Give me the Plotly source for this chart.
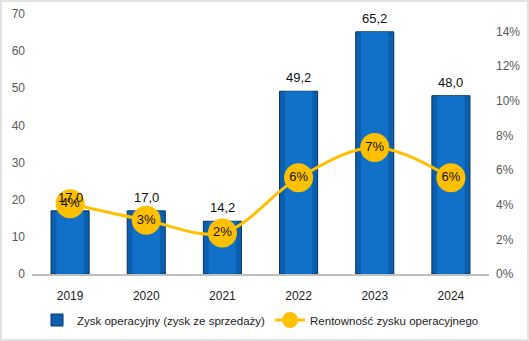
import plotly.graph_objects as go

years = ["2019", "2020", "2021", "2022", "2023", "2024"]
zysk = [17.0, 17.0, 14.2, 49.2, 65.2, 48.0]
rentownosc = [0.0405, 0.031, 0.0237, 0.0555, 0.073, 0.0555]

zysk_labels = [f"{v:.1f}".replace(".", ",") for v in zysk]
rent_labels = [f"{round(v*100):.0f}%" for v in rentownosc]

W, H = 529, 341
ml, mr, mt, mb = 32, 40, 14, 67
pw, ph = W - ml - mr, H - mt - mb
FONT = "Liberation Sans, Arial, sans-serif"

fig = go.Figure()
fig.add_trace(go.Bar(
    x=years, y=zysk, name="Zysk operacyjny (zysk ze sprzedaży)",
    width=0.5, marker=dict(color="#0b5fae", line=dict(color="#06345f", width=1)),
))
# inner highlight to mimic bevel
fig.add_trace(go.Bar(
    x=years, y=zysk, width=0.36, showlegend=False, hoverinfo="skip",
    marker=dict(color="#1170c8", line=dict(width=0)),
))
fig.add_trace(go.Scatter(
    x=years, y=rentownosc, name="Rentowność zysku operacyjnego", yaxis="y2",
    mode="lines+markers+text", line=dict(color="#FFC000", width=3, shape="spline"),
    marker=dict(size=29, color="#FFC000"),
    text=rent_labels, textposition="middle center",
    textfont=dict(size=13, color="#111111", family=FONT), cliponaxis=False,
))

# category axis: annotations use the category index
for i, (v, lab) in enumerate(zip(zysk, zysk_labels)):
    fig.add_annotation(x=i, y=v, xref="x", yref="y", text=lab, showarrow=False,
                       yanchor="bottom", yshift=4,
                       font=dict(size=13, color="#111111", family=FONT))

fig.update_layout(
    width=W, height=H, margin=dict(l=ml, r=mr, t=mt, b=mb, autoexpand=False),
    paper_bgcolor="white", plot_bgcolor="white",
    barmode="overlay", bargap=0.5,
    font=dict(family=FONT, size=12, color="#595959"),
    xaxis=dict(type="category", categoryorder="array", categoryarray=years,
               range=[-0.5, len(years) - 0.5],
               showline=True, linecolor="#bfbfbf", linewidth=2, ticks="",
               tickfont=dict(size=12, color="#222222"), ticklabelstandoff=10,
               showgrid=False, zeroline=False),
    yaxis=dict(range=[0, 70], dtick=10, showgrid=False, zeroline=False,
               ticklabelstandoff=6, tickfont=dict(size=12, color="#595959")),
    yaxis2=dict(range=[0, 0.15], dtick=0.02, tickformat=".0%", overlaying="y",
                side="right", showgrid=False, zeroline=False,
                ticklabelstandoff=6, tickfont=dict(size=12, color="#595959")),
    legend=dict(orientation="h", x=0.5, xanchor="center", y=-46/ph, yanchor="middle",
                font=dict(size=11.5, color="#222222"), itemwidth=30),
    showlegend=True,
)
fig.add_shape(type="rect", xref="paper", yref="paper",
              x0=-(ml - 1) / pw, x1=1 + (mr - 1) / pw,
              y0=-(mb - 1) / ph, y1=1 + (mt - 1) / ph,
              line=dict(color="#d9d9d9", width=1.5), layer="below")

fig.write_html("out.html")
